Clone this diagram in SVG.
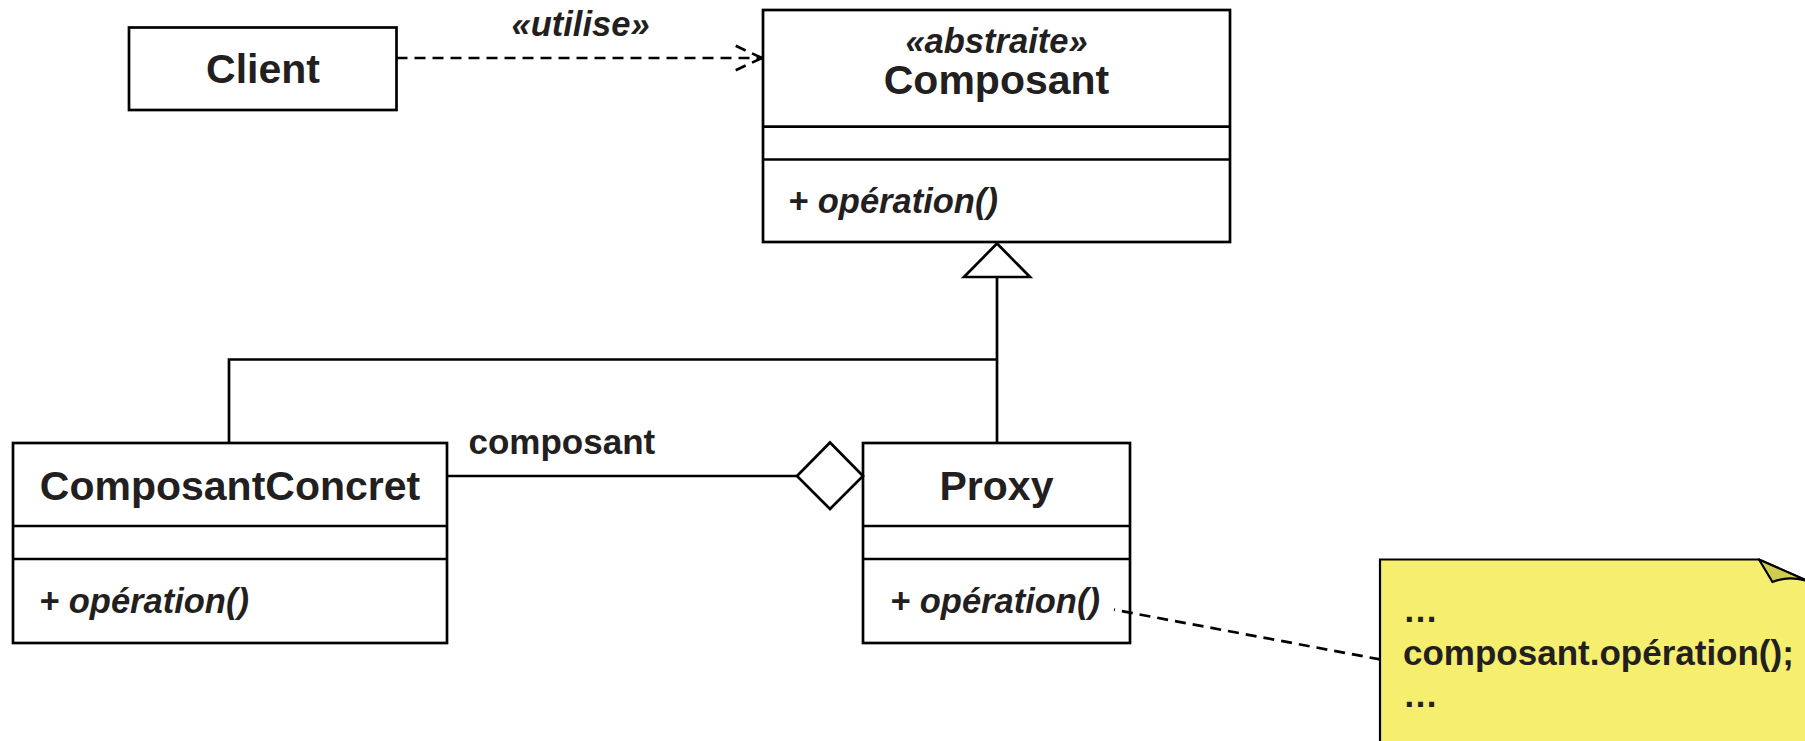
<svg xmlns="http://www.w3.org/2000/svg" width="1805" height="741" viewBox="0 0 1805 741">
  <style>
    .box { fill: #ffffff; stroke: #000000; stroke-width: 2.7; }
    .sep { stroke: #000000; stroke-width: 2.7; }
    .line { fill: none; stroke: #000000; stroke-width: 2.7; }
    .dash { fill: none; stroke: #000000; stroke-width: 2.7; stroke-dasharray: 11 7; }
    .name { font-family: "Liberation Sans", Arial, sans-serif; font-weight: bold; font-size: 41px; fill: #231f20; text-anchor: middle; }
    .stereo { font-family: "Liberation Sans", Arial, sans-serif; font-weight: bold; font-style: italic; font-size: 34.5px; fill: #231f20; }
    .op { font-family: "Liberation Sans", Arial, sans-serif; font-weight: bold; font-style: italic; font-size: 34.5px; fill: #231f20; }
    .lbl { font-family: "Liberation Sans", Arial, sans-serif; font-weight: bold; font-size: 35px; fill: #231f20; }
  </style>
  <rect width="1805" height="741" fill="#ffffff"/>

  <!-- Client -->
  <g id="client">
    <rect class="box" x="129" y="27.5" width="267.5" height="82.5"/>
    <text class="name" x="263" y="83">Client</text>
  </g>

  <!-- Abstract class Composant -->
  <g id="composant">
    <rect class="box" x="763" y="10" width="467" height="232"/>
    <line class="sep" x1="763" y1="126.7" x2="1230" y2="126.7"/>
    <line class="sep" x1="763" y1="159.5" x2="1230" y2="159.5"/>
    <text class="stereo" x="996.5" y="53" text-anchor="middle">«abstraite»</text>
    <text class="name" x="996.5" y="94">Composant</text>
    <text class="op" x="788" y="213">+ opération()</text>
  </g>

  <!-- ComposantConcret -->
  <g id="composant-concret">
    <rect class="box" x="13" y="443" width="434" height="200"/>
    <line class="sep" x1="13" y1="526" x2="447" y2="526"/>
    <line class="sep" x1="13" y1="559" x2="447" y2="559"/>
    <text class="name" x="230" y="500">ComposantConcret</text>
    <text class="op" x="39" y="613">+ opération()</text>
  </g>

  <!-- Proxy -->
  <g id="proxy">
    <rect class="box" x="863" y="443" width="267" height="200"/>
    <line class="sep" x1="863" y1="526" x2="1130" y2="526"/>
    <line class="sep" x1="863" y1="559" x2="1130" y2="559"/>
    <text class="name" x="996.5" y="500">Proxy</text>
    <text class="op" x="890" y="613">+ opération()</text>
  </g>

  <!-- Note attached to Proxy.opération() -->
  <g id="note">
    <path d="M1380,745 V559.5 H1759 L1812,583 V745 Z" fill="#f5ee6e" stroke="#000000" stroke-width="2.2"/>
    <path d="M1759,559.5 L1772.5,582 C1783,577.5 1796,577 1810,582 L1759,559.5 Z" fill="#cfcc50" stroke="#000000" stroke-width="2.2" stroke-linejoin="round"/>
    <text class="lbl" x="1403" y="622">…</text>
    <text class="lbl" x="1403" y="665">composant.opération();</text>
    <text class="lbl" x="1403" y="707">…</text>
  </g>

  <!-- Connectors -->
  <g id="connectors">
    <!-- dependency Client -> Composant -->
    <line class="dash" x1="396.5" y1="58" x2="762" y2="58"/>
    <line class="dash" x1="762" y1="58" x2="735" y2="45.5"/>
    <line class="dash" x1="762" y1="58" x2="735" y2="70.5"/>
    <text class="stereo" x="511.5" y="36">«utilise»</text>

    <!-- generalisation tree -->
    <polygon points="997,243.5 964,277 1030,277" fill="#ffffff" stroke="#000000" stroke-width="2.7" stroke-linejoin="miter"/>
    <line class="line" x1="997" y1="277" x2="997" y2="443"/>
    <polyline class="line" points="229,443 229,359.5 997,359.5"/>

    <!-- aggregation Proxy -> ComposantConcret -->
    <line class="line" x1="447" y1="476" x2="797" y2="476"/>
    <polygon points="797,476 830,442.5 863,476 830,509" fill="#ffffff" stroke="#000000" stroke-width="2.7"/>
    <text class="lbl" x="468.5" y="454">composant</text>

    <!-- note anchor -->
    <line class="dash" x1="1114" y1="609.7" x2="1380" y2="659.4" stroke-dashoffset="10" stroke-dasharray="12 8"/>
  </g>
</svg>
